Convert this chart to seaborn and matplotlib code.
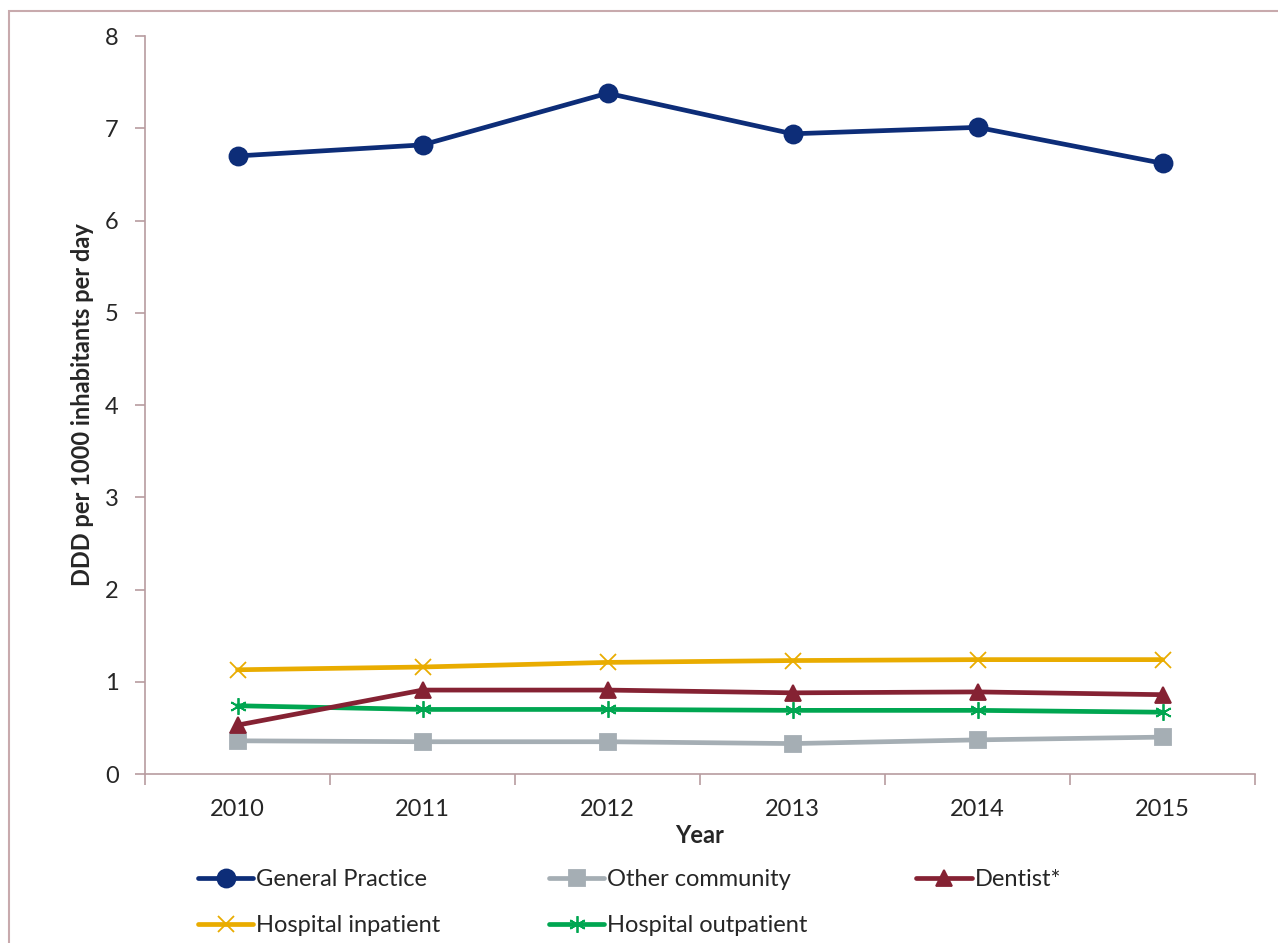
import matplotlib
matplotlib.use('Agg')
import matplotlib.pyplot as plt
import seaborn as sns
from matplotlib.patches import Rectangle
from matplotlib.ticker import MultipleLocator, FixedLocator

# Data
years = [2010, 2011, 2012, 2013, 2014, 2015]
general_practice = [6.70, 6.82, 7.38, 6.94, 7.01, 6.62]
other_community = [0.36, 0.35, 0.35, 0.33, 0.37, 0.40]
dentist = [0.53, 0.91, 0.91, 0.88, 0.89, 0.86]
hospital_inpatient = [1.13, 1.16, 1.21, 1.23, 1.24, 1.24]
hospital_outpatient = [0.74, 0.70, 0.70, 0.69, 0.69, 0.67]

series = [
    ('General Practice', general_practice, '#0d2d78', 'o', 13),
    ('Hospital inpatient', hospital_inpatient, '#e9ac00', 'x', 12),
    ('Other community', other_community, '#a5aeb4', 's', 11),
    ('Hospital outpatient', hospital_outpatient, '#00a651', (6, 2, 0), 12),
    ('Dentist*', dentist, '#852233', '^', 11),
]

sns.set_style('white')
plt.rcParams['font.family'] = ['Lato', 'DejaVu Sans']
axis_col = '#b89ca0'

fig = plt.figure(figsize=(12.78, 9.43), dpi=100)
ax = fig.add_axes([0.1135, 0.1792, 0.8685, 0.7826])

for name, vals, col, mk, ms in series:
    sns.lineplot(x=years, y=vals, color=col, marker=mk, markersize=ms,
                 linewidth=3.4, label=name, ax=ax, markeredgecolor=col,
                 markeredgewidth=1.3)

ax.set_xlim(2009.5, 2015.5)
ax.set_ylim(0, 8)
ax.yaxis.set_major_locator(MultipleLocator(1))
ax.xaxis.set_major_locator(FixedLocator(years))
ax.xaxis.set_minor_locator(FixedLocator([y + 0.5 for y in [2009] + years]))
ax.set_xticklabels([str(y) for y in years])
ax.tick_params(axis='x', which='major', bottom=True, length=0, labelsize=17, pad=18)
ax.tick_params(axis='x', which='minor', bottom=True, length=8, width=1.2,
               color=axis_col, direction='out')
ax.tick_params(axis='y', left=True, length=7, width=1.2, color=axis_col,
               labelsize=17, pad=12)

for side in ['top', 'right']:
    ax.spines[side].set_visible(False)
for side in ['left', 'bottom']:
    ax.spines[side].set_color(axis_col)
    ax.spines[side].set_linewidth(1.2)

ax.set_xlabel('Year', fontsize=17, fontweight='bold', labelpad=3)
ax.set_ylabel('DDD per 1000 inhabitants per day', fontsize=17,
              fontweight='bold', labelpad=8)

ax.legend(loc='upper left', bbox_to_anchor=(0.039, -0.116), ncol=3,
          frameon=False, fontsize=17, handlelength=2.35, handletextpad=0.12,
          columnspacing=4.6, labelspacing=1.05, borderaxespad=0)

# chart frame, cut off on the right and bottom as in the reference
fig.patches.append(Rectangle((9 / 1278, -0.1), 1.2, 1.1 - 11 / 943,
                             transform=fig.transFigure, fill=False,
                             edgecolor='#c8aaad', linewidth=1.5))

fig.savefig('out.png', dpi=100)
